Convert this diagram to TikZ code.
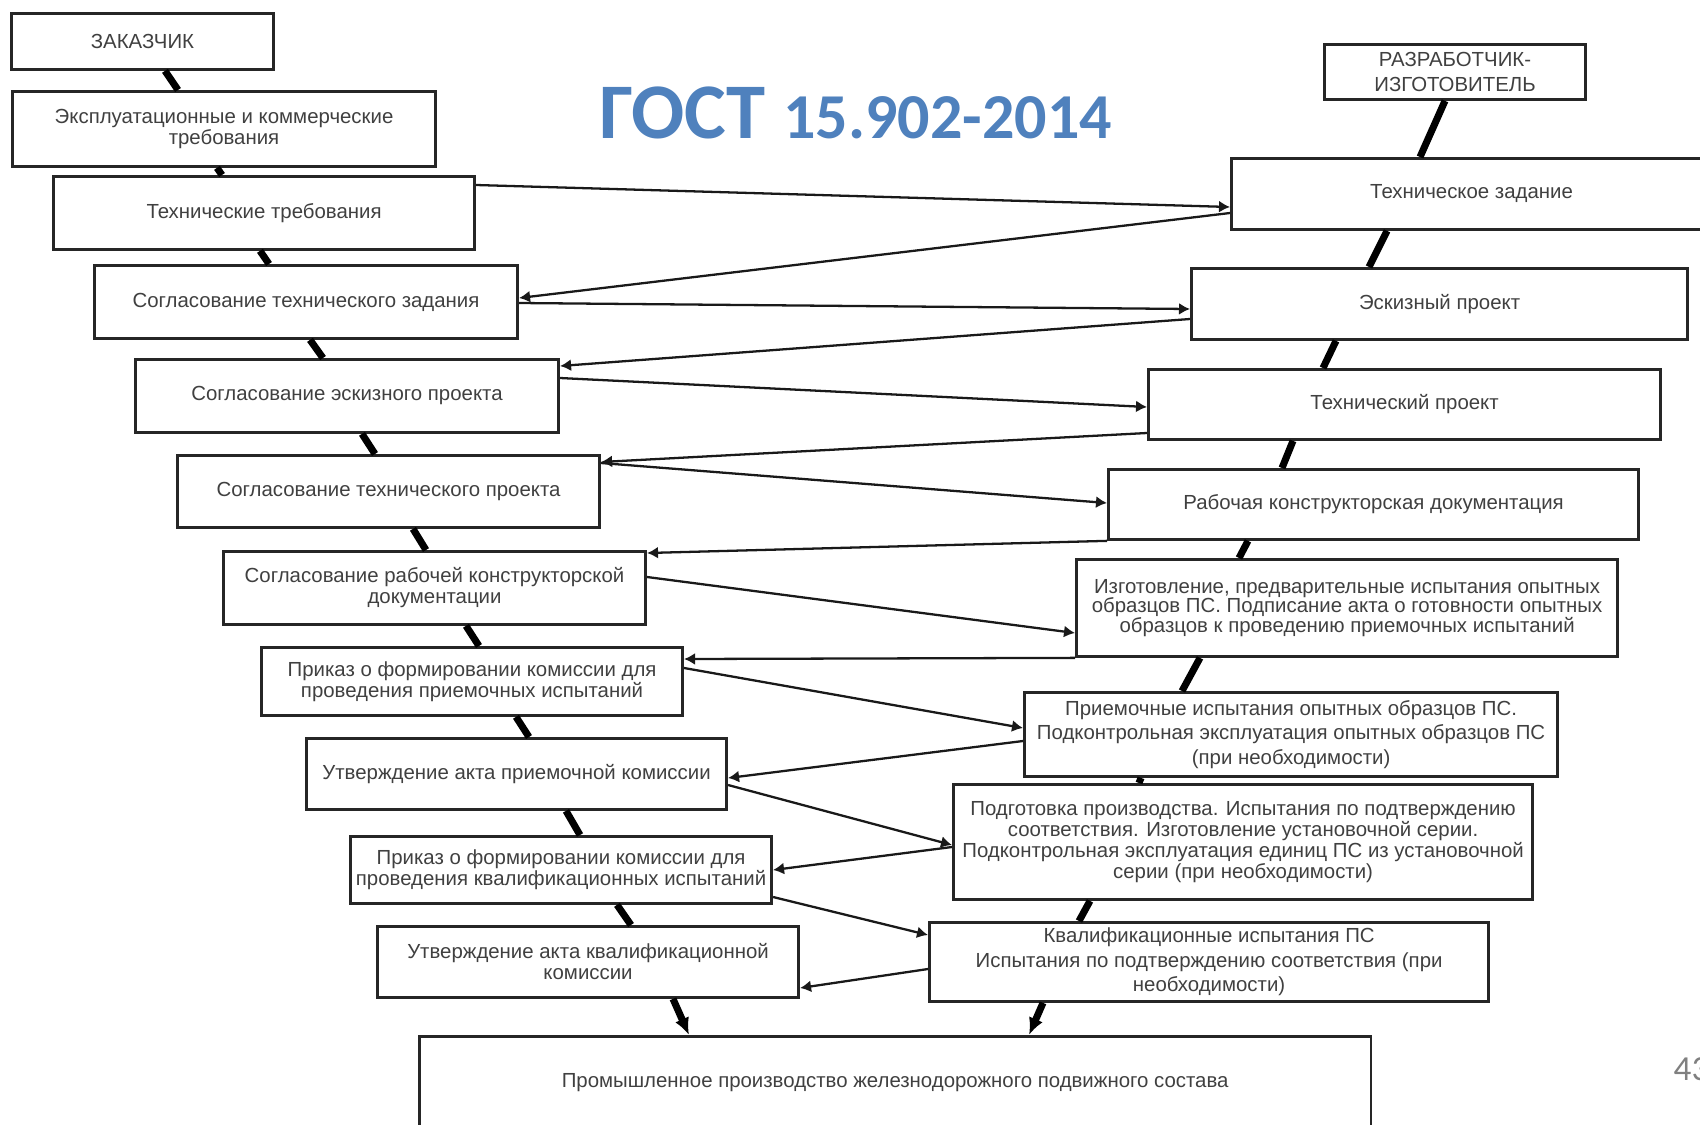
\documentclass[tikz,border=0pt]{standalone}
\usepackage{fontspec}
\setmainfont{Liberation Sans}
\newfontfamily\titlefont{Carlito}
\usetikzlibrary{arrows.meta}

\definecolor{gostblue}{RGB}{79,129,189}

\tikzset{
  box/.style={draw=black!85, line width=0.8pt, fill=white, anchor=north west,
    align=center, inner sep=0.5pt, text=black!75,
    font=\fontsize{5.8}{6}\selectfont},
  tight/.style={font=\fontsize{5.8}{5.6}\selectfont},
  loose/.style={font=\fontsize{5.8}{6.9}\selectfont},
  link/.style={line width=2pt, black},
  flow/.style={-{Latex[length=1.1mm,width=1.2mm]}, line width=0.65pt, black!90},
  down/.style={-{Latex[length=1.7mm,width=1.5mm]}, line width=2pt, black},
}

\begin{document}
\begin{tikzpicture}[x=0.01cm,y=-0.01cm]
    \useasboundingbox (0,0) rectangle (1700,1124);

    \node[box,minimum width=2.62cm,minimum height=0.56cm] (l0) at (10,12) {ЗАКАЗЧИК};
    \node[box,minimum width=4.23cm,minimum height=0.75cm] (l1) at (11,90) {Эксплуатационные и коммерческие\\требования};
    \node[box,minimum width=4.21cm,minimum height=0.73cm] (l2) at (52,175) {Технические требования};
    \node[box,minimum width=4.23cm,minimum height=0.73cm] (l3) at (93,264) {Согласование технического задания};
    \node[box,minimum width=4.23cm,minimum height=0.73cm] (l4) at (134,358) {Согласование эскизного проекта};
    \node[box,minimum width=4.22cm,minimum height=0.72cm] (l5) at (176,454) {Согласование технического проекта};
    \node[box,minimum width=4.22cm,minimum height=0.73cm] (l6) at (222,550) {Согласование рабочей конструкторской\\документации};
    \node[box,minimum width=4.21cm,minimum height=0.68cm] (l7) at (260,646) {Приказ о формировании комиссии для\\проведения приемочных испытаний};
    \node[box,minimum width=4.20cm,minimum height=0.71cm] (l8) at (305,737) {Утверждение акта приемочной комиссии};
    \node[box,minimum width=4.21cm,minimum height=0.67cm] (l9) at (349,835) {Приказ о формировании комиссии для\\проведения квалификационных испытаний};
    \node[box,minimum width=4.21cm,minimum height=0.71cm] (l10) at (376,925) {Утверждение акта квалификационной\\комиссии};

    \node[box,minimum width=2.61cm,minimum height=0.55cm,font=\fontsize{5.8}{7}\selectfont] (r0) at (1323,43) {РАЗРАБОТЧИК-\\ИЗГОТОВИТЕЛЬ};
    \node[box,minimum width=4.80cm,minimum height=0.71cm] (r1) at (1230,157) {Техническое задание};
    \node[box,minimum width=4.96cm,minimum height=0.71cm] (r2) at (1190,267) {Эскизный проект};
    \node[box,minimum width=5.12cm,minimum height=0.70cm] (r3) at (1147,368) {Технический проект};
    \node[box,minimum width=5.30cm,minimum height=0.70cm] (r4) at (1107,468) {Рабочая конструкторская документация};
    \node[box,tight,minimum width=5.41cm,minimum height=0.97cm] (r5) at (1075,558) {Изготовление, предварительные испытания опытных\\образцов ПС. Подписание акта о готовности опытных\\образцов к проведению приемочных испытаний};
    \node[box,loose,minimum width=5.33cm,minimum height=0.84cm] (r6) at (1023,691) {Приемочные испытания опытных образцов ПС.\\Подконтрольная эксплуатация опытных образцов ПС\\(при необходимости)};
    \node[box,minimum width=5.79cm,minimum height=1.15cm] (r7) at (952,783) {Подготовка производства. Испытания по подтверждению\\соответствия. Изготовление установочной серии.\\Подконтрольная эксплуатация единиц ПС из установочной\\серии (при необходимости)};
    \node[box,loose,minimum width=5.59cm,minimum height=0.79cm] (r8) at (928,921) {Квалификационные испытания ПС\\Испытания по подтверждению соответствия (при\\необходимости)};

    \node[box,minimum width=9.51cm,minimum height=0.93cm] (p) at (418,1035) {Промышленное производство железнодорожного подвижного состава};

    \node[anchor=base west,inner sep=0,text=gostblue,font=\titlefont\bfseries] (title) at (599,138)
      {\fontsize{22.4}{26}\selectfont ГОСТ \fontsize{18.2}{22}\selectfont 15.902-2014};
    \node[anchor=base west,inner sep=0,text=black!50,font=\titlefont\fontsize{10}{12}\selectfont] (pg) at (1673,1080) {43};

    \draw[link] (l0.south -| 165,0) -- (l1.north -| 178,0);
    \draw[link] (l1.south -| 217,0) -- (l2.north -| 222,0);
    \draw[link] (l2.south -| 260,0) -- (l3.north -| 269,0);
    \draw[link] (l3.south -| 310,0) -- (l4.north -| 323,0);
    \draw[link] (l4.south -| 362,0) -- (l5.north -| 375,0);
    \draw[link] (l5.south -| 413,0) -- (l6.north -| 426,0);
    \draw[link] (l6.south -| 466,0) -- (l7.north -| 479,0);
    \draw[link] (l7.south -| 516,0) -- (l8.north -| 529,0);
    \draw[link] (l8.south -| 566,0) -- (l9.north -| 580,0);
    \draw[link] (l9.south -| 617,0) -- (l10.north -| 631,0);
    \draw[down] (l10.south -| 673,0) -- (p.north -| 689,0);

    \draw[link] (r0.south -| 1445,0) -- (r1.north -| 1420,0);
    \draw[link] (r1.south -| 1387,0) -- (r2.north -| 1369,0);
    \draw[link] (r2.south -| 1336,0) -- (r3.north -| 1323,0);
    \draw[link] (r3.south -| 1293,0) -- (r4.north -| 1282,0);
    \draw[link] (r4.south -| 1248,0) -- (r5.north -| 1239,0);
    \draw[link] (r5.south -| 1200,0) -- (r6.north -| 1182,0);
    \draw[link] (r6.south -| 1141,0) -- (r7.north -| 1139,0);
    \draw[link] (r7.south -| 1090,0) -- (r8.north -| 1079,0);
    \draw[down] (r8.south -| 1043,0) -- (p.north -| 1029,0);

    \path[flow] (l2.east |- 0,185) edge (r1.west |- 0,207);
    \path[flow] (r1.west |- 0,213) edge (l3.east |- 0,298);
    \path[flow] (l3.east |- 0,303) edge (r2.west |- 0,309);
    \path[flow] (r2.west |- 0,319) edge (l4.east |- 0,366);
    \path[flow] (l4.east |- 0,378) edge (r3.west |- 0,407);
    \path[flow] (r3.west |- 0,433) edge (l5.east |- 0,462);
    \path[flow] (l5.east |- 0,463) edge (r4.west |- 0,503);
    \path[flow] (r4.south west) edge (l6.east |- 0,553);
    \path[flow] (l6.east |- 0,577) edge (r5.west |- 0,633);
    \path[flow] (r5.south west) edge (l7.east |- 0,659);
    \path[flow] (l7.east |- 0,668) edge (r6.west |- 0,728);
    \path[flow] (r6.west |- 0,741) edge (l8.east |- 0,778);
    \path[flow] (l8.east |- 0,785) edge (r7.west |- 0,845);
    \path[flow] (r7.west |- 0,847) edge (l9.east |- 0,870);
    \path[flow] (l9.east |- 0,897) edge (r8.west |- 0,935);
    \path[flow] (r8.west |- 0,969) edge (l10.east |- 0,988);
\end{tikzpicture}
\end{document}
